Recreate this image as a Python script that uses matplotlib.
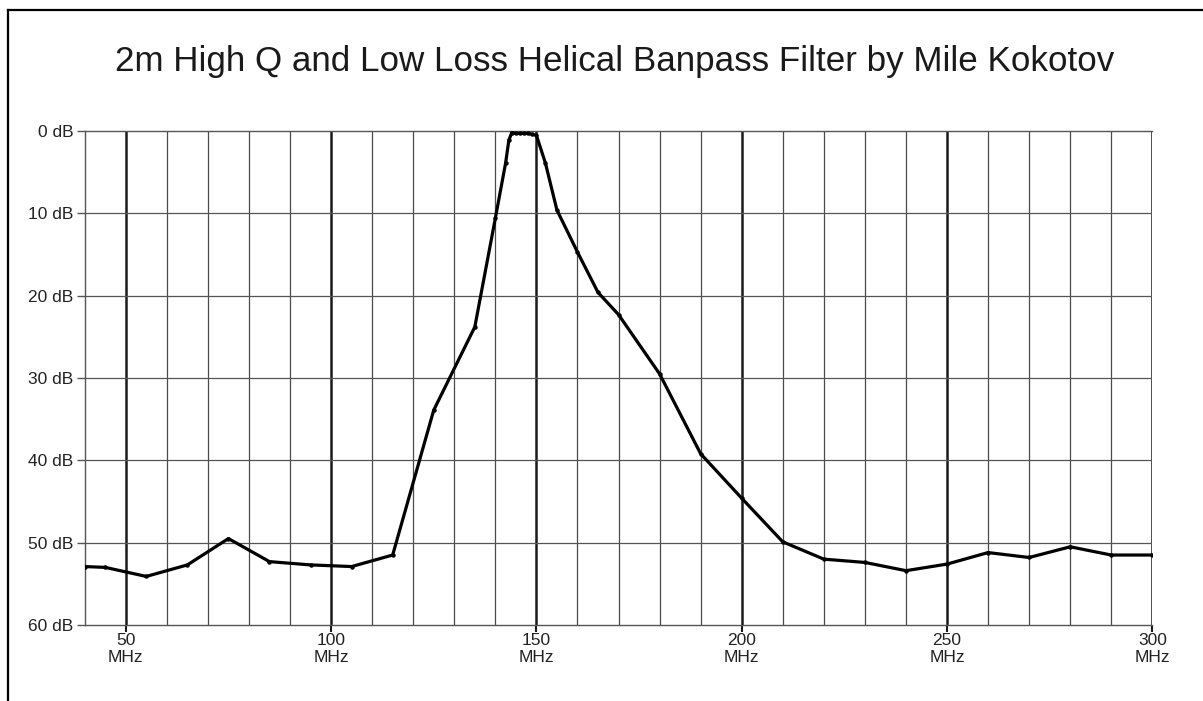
import numpy as np
import matplotlib.pyplot as plt
from matplotlib.lines import Line2D

plt.rcParams['font.family'] = ['Liberation Sans', 'DejaVu Sans']

# measured response (MHz, attenuation dB)
freq = [40, 45, 55, 65, 75, 85, 95, 105, 115, 125, 135, 140, 142.5, 143.3,
        144, 145, 146, 147, 148, 149, 150, 152.2, 155, 160, 165, 170, 180,
        190, 200, 210, 220, 230, 240, 250, 260, 270, 280, 290, 300]
atten = [52.9, 53.0, 54.1, 52.7, 49.5, 52.3, 52.7, 52.9, 51.5, 33.9, 23.8,
         10.6, 3.9, 1.1, 0.2, 0.3, 0.3, 0.3, 0.3, 0.4, 0.5, 3.9, 9.6, 14.7,
         19.6, 22.3, 29.5, 39.2, 44.6, 49.9, 52.0, 52.4, 53.4, 52.6, 51.2,
         51.8, 50.5, 51.5, 51.5]

x_major = [50, 100, 150, 200, 250, 300]
x_labels = [f"{v}\nMHz" for v in x_major]
y_ticks = [0, 10, 20, 30, 40, 50, 60]
y_labels = [f"{v} dB" for v in y_ticks]
title = "2m High Q and Low Loss Helical Banpass Filter by Mile Kokotov"

fig = plt.figure(figsize=(12.03, 7.01), dpi=100)
ax = fig.add_axes([0.0704, 0.1084, 0.8875, 0.7047])

ax.set_xlim(40, 300)
ax.set_ylim(60, 0)

# grid
for xv in np.arange(60, 300, 10):
    if xv % 50:
        ax.axvline(xv, color="#4a4a4a", lw=0.9, zorder=1)
for xv in x_major:
    ax.axvline(xv, color="#1a1a1a", lw=1.8, zorder=1)
for yv in y_ticks[1:-1]:
    ax.axhline(yv, color="#555555", lw=0.9, zorder=1)

ax.plot(freq, atten, color="black", lw=2.3, marker="o", ms=2.2, zorder=3)

for s in ["left", "bottom", "top"]:
    ax.spines[s].set_color("#555555")
    ax.spines[s].set_linewidth(1.0)
ax.spines["right"].set_visible(False)

ax.set_xticks(x_major)
ax.set_xticklabels(x_labels, fontsize=12.5, linespacing=1.1, color="#222222")
ax.set_yticks(y_ticks)
ax.set_yticklabels(y_labels, fontsize=12.5, color="#222222")
ax.tick_params(axis="x", length=5, width=1.5, color="#1a1a1a", pad=1)
ax.tick_params(axis="y", length=6, width=1.0, color="#555555", pad=2)

fig.text(0.511, 0.912, title, ha="center", va="center", fontsize=25.2,
         color="#1a1a1a")

# outer frame (left and top edges)
fig.add_artist(Line2D([8 / 1203, 8 / 1203], [0, 1 - 10 / 701],
                      transform=fig.transFigure, color="black", lw=1.6))
fig.add_artist(Line2D([8 / 1203, 1], [1 - 10 / 701, 1 - 10 / 701],
                      transform=fig.transFigure, color="black", lw=1.6))

fig.savefig("out.png", dpi=100)
